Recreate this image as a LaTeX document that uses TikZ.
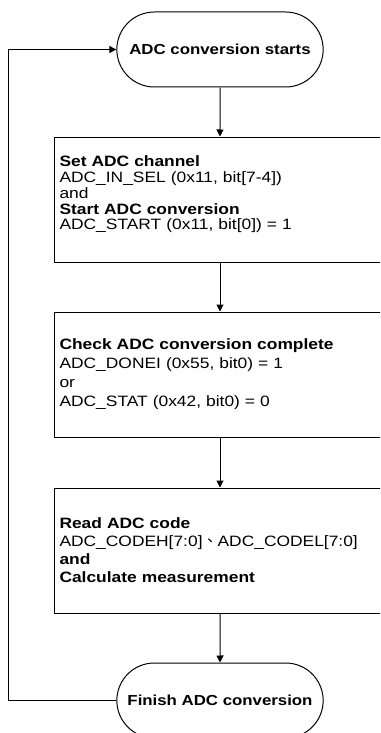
\documentclass[tikz,border=0pt]{standalone}
\usepackage{fontspec}
\setmainfont{Liberation Sans}[FakeStretch=1.16]
\newfontfamily\cjk{Noto Sans CJK TC}
\usetikzlibrary{arrows.meta,positioning,shapes.misc}

\begin{document}
\begin{tikzpicture}[x=1pt,y=-1pt,line width=1pt,
	>={Triangle[length=7pt,width=7pt]},
	term/.style={draw,rounded rectangle,minimum width=213pt,minimum height=75pt,
		font=\fontsize{14.5}{18}\selectfont\bfseries},
	stepbox/.style={draw,rectangle,anchor=west,minimum width=341pt,minimum height=125pt,
		text width=331pt,inner xsep=5pt,align=left},
	steptext/.style={anchor=west,text width=331pt,inner xsep=5pt,align=left}]
		\clip (0,0) rectangle (380,733);
		\node[term] (start) at (220,49.5) {ADC conversion starts};
		\node[stepbox] (setch) at (54,199.5) {};
		\node[steptext,font=\fontsize{15}{15.8}\selectfont] (setchtext) at ([yshift=5pt]setch.west)
			{\textbf{Set ADC channel}\\ADC\_IN\_SEL (0x11, bit[7-4])\\and\\
			\textbf{Start ADC conversion}\\ADC\_START (0x11, bit[0]) = 1};
		\node[stepbox,font=\fontsize{15}{19}\selectfont] (check) at (54,374.5)
			{\textbf{Check ADC conversion complete}\\ADC\_DONEI (0x55, bit0) = 1\\or\\
			ADC\_STAT (0x42, bit0) = 0};
		\node[stepbox,font=\fontsize{15}{18}\selectfont] (read) at (54,550.5)
			{\textbf{Read ADC code}\\ADC\_CODEH[7:0]{\cjk 、}ADC\_CODEL[7:0]\\\textbf{and}\\
			\textbf{Calculate measurement}};
		\node[term] (finish) at (220,700.5) {Finish ADC conversion};
		\coordinate (back) at (8,700.5);
		\draw[->] (start) -- (start |- setch.north);
		\draw[->] (start |- setch.south) -- (start |- check.north);
		\draw[->] (start |- check.south) -- (start |- read.north);
		\draw[->] (finish |- read.south) -- (finish);
		\draw[->] (finish.west) -- (back) |- (start.west);
	\end{tikzpicture}
\end{document}
